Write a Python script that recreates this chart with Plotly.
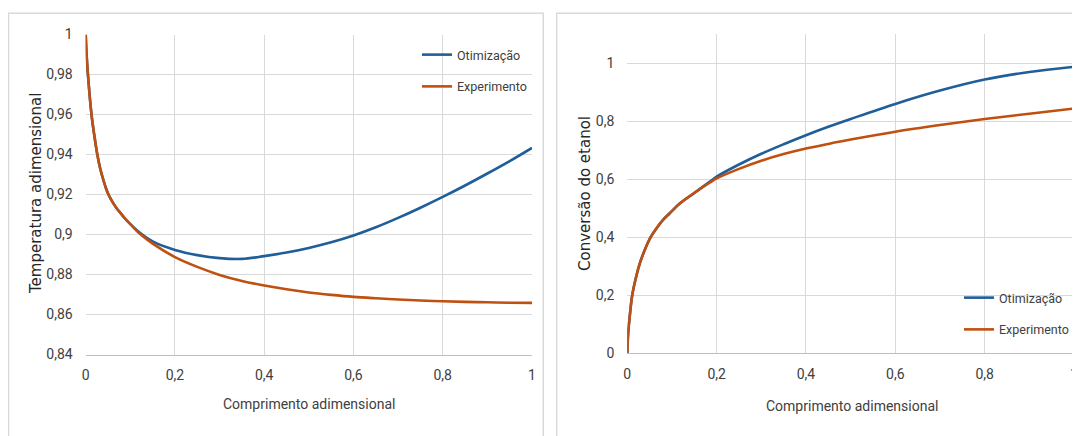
import plotly.graph_objects as go

# ---------------- data ----------------
# Left chart: dimensionless temperature vs dimensionless length
x_temp = [0, 0.002, 0.005, 0.013, 0.019, 0.026, 0.033, 0.04, 0.045, 0.051, 0.057, 0.063, 0.07,
          0.077, 0.088, 0.1, 0.122, 0.151,
          0.2, 0.25, 0.3, 0.35, 0.4, 0.45, 0.5, 0.55, 0.6, 0.65, 0.7, 0.75, 0.8, 0.85, 0.9, 0.95, 1.0]
temp_otim = [1.0, 0.99, 0.98, 0.96, 0.95, 0.94, 0.9325, 0.927, 0.9234, 0.92, 0.9174, 0.9152, 0.9129,
             0.9110, 0.9080, 0.9052, 0.9008, 0.8964,
             0.8923, 0.8897, 0.8882, 0.8878, 0.8892, 0.8910, 0.8933, 0.8961, 0.8995, 0.9036,
             0.9083, 0.9134, 0.9188, 0.9245, 0.9305, 0.9367, 0.9433]
temp_exp = [1.0, 0.99, 0.98, 0.96, 0.95, 0.94, 0.9325, 0.927, 0.9234, 0.92, 0.9174, 0.9152, 0.9129,
            0.9110, 0.9080, 0.9052, 0.9002, 0.8953,
            0.8887, 0.8838, 0.8798, 0.8768, 0.8745, 0.8726, 0.8710, 0.8698, 0.8688, 0.8681,
            0.8675, 0.8670, 0.8666, 0.8663, 0.8661, 0.8659, 0.8658]

# Right chart: ethanol conversion vs dimensionless length
x_conv = [0, 0.002, 0.006, 0.011, 0.02, 0.028, 0.04, 0.052, 0.065, 0.08, 0.095, 0.118, 0.15,
          0.185, 0.2, 0.25, 0.3, 0.35, 0.4, 0.45, 0.5, 0.6, 0.7, 0.8, 0.9, 1.0]
conv_otim = [0, 0.07, 0.135, 0.2, 0.265, 0.31, 0.36, 0.40, 0.43, 0.46, 0.483, 0.517, 0.553,
             0.592, 0.609, 0.651, 0.688, 0.721, 0.752, 0.781, 0.808, 0.860, 0.906, 0.944, 0.970, 0.988]
conv_exp = [0, 0.07, 0.135, 0.2, 0.265, 0.31, 0.36, 0.40, 0.43, 0.46, 0.483, 0.517, 0.553,
            0.589, 0.603, 0.636, 0.664, 0.687, 0.706, 0.722, 0.737, 0.764, 0.787, 0.808, 0.826, 0.844]

series_names = ["Otimização", "Experimento"]

x_tickvals = [0, 0.2, 0.4, 0.6, 0.8, 1.0]
x_ticktext = ["0", "0,2", "0,4", "0,6", "0,8", "1"]
temp_tickvals = [0.84, 0.86, 0.88, 0.90, 0.92, 0.94, 0.96, 0.98, 1.0]
temp_ticktext = ["0,84", "0,86", "0,88", "0,9", "0,92", "0,94", "0,96", "0,98", "1"]
conv_tickvals = [0, 0.2, 0.4, 0.6, 0.8, 1.0]
conv_ticktext = ["0", "0,2", "0,4", "0,6", "0,8", "1"]

x_title = "Comprimento adimensional"
temp_title = "Temperatura adimensional"
conv_title = "Conversão do etanol"

# ---------------- style ----------------
# the page body has an 8px margin, so the figure is sized to fit the 1080x436 window
OFF = 8
W, H = 1080 - OFF, 436 - OFF
BLUE = "#1f5e99"
ORANGE = "#c0500f"
GRID = "#d9d9d9"
NARROW = "Roboto, sans-serif"
TICKFONT = dict(family=NARROW, size=14, color="#404040")
TITLEFONT = dict(family="DejaVu Sans, Verdana, sans-serif", size=15, color="#262626")
LEGFONT = dict(family=NARROW, size=12.5, color="#404040")


def px_x(p):
    # window pixel -> paper fraction
    return (p - OFF) / W


def px_y(p):
    return (H - (p - OFF)) / H


fig = go.Figure()

LW = 2.6
SM = 1.0
fig.add_trace(go.Scatter(x=x_temp, y=temp_otim, name=series_names[0], mode="lines",
                         line=dict(color=BLUE, width=LW, shape="spline", smoothing=SM),
                         xaxis="x", yaxis="y", legend="legend", legendgroup="a1"))
fig.add_trace(go.Scatter(x=x_temp, y=temp_exp, name=series_names[1], mode="lines",
                         line=dict(color=ORANGE, width=LW, shape="spline", smoothing=SM),
                         xaxis="x", yaxis="y", legend="legend", legendgroup="b1"))
fig.add_trace(go.Scatter(x=x_conv, y=conv_otim, name=series_names[0], mode="lines",
                         line=dict(color=BLUE, width=LW, shape="spline", smoothing=SM),
                         xaxis="x2", yaxis="y2", legend="legend2", legendgroup="a2"))
fig.add_trace(go.Scatter(x=x_conv, y=conv_exp, name=series_names[1], mode="lines",
                         line=dict(color=ORANGE, width=LW, shape="spline", smoothing=SM),
                         xaxis="x2", yaxis="y2", legend="legend2", legendgroup="b2"))

axis_common = dict(showgrid=True, gridcolor=GRID, gridwidth=1.3, zeroline=False,
                   tickfont=TICKFONT, ticks="", fixedrange=True, automargin=False)

fig.update_layout(
    template="none",
    width=W, height=H,
    autosize=False,
    margin=dict(l=0, r=0, t=0, b=0, pad=0, autoexpand=False),
    paper_bgcolor="white", plot_bgcolor="white",
    xaxis=dict(domain=[px_x(85.7), px_x(532)], range=[0, 1], tickvals=x_tickvals, ticktext=x_ticktext,
               anchor="y", ticklabelstandoff=8, showline=True, linecolor="#bfbfbf", linewidth=1.3,
               **axis_common),
    yaxis=dict(domain=[px_y(354.5), px_y(34.5)], range=[0.84, 1.0], tickvals=temp_tickvals,
               ticktext=temp_ticktext, anchor="x", ticklabelstandoff=12, showline=False, **axis_common),
    xaxis2=dict(domain=[px_x(627.3), px_x(1074)], range=[0, 1], tickvals=x_tickvals, ticktext=x_ticktext,
                anchor="y2", ticklabelstandoff=8, showline=True, linecolor="#bfbfbf", linewidth=1.3,
                **axis_common),
    yaxis2=dict(domain=[px_y(353.3), px_y(34.3)], range=[0, 1.1], tickvals=conv_tickvals,
                ticktext=conv_ticktext, anchor="x2", ticklabelstandoff=12, showline=False, **axis_common),
    legend=dict(x=px_x(417), y=px_y(40), xanchor="left", yanchor="top", bgcolor="rgba(0,0,0,0)",
                font=LEGFONT, borderwidth=0,
                traceorder="grouped", tracegroupgap=12.5, itemclick=False),
    legend2=dict(x=px_x(959), y=px_y(283), xanchor="left", yanchor="top", bgcolor="rgba(0,0,0,0)",
                 font=LEGFONT, borderwidth=0,
                 traceorder="grouped", tracegroupgap=12.5, itemclick=False),
    shapes=[
        dict(type="rect", xref="paper", yref="paper", x0=px_x(8.5), x1=px_x(543.3), y0=-0.05, y1=px_y(13.3),
             line=dict(color=GRID, width=1.5), layer="below"),
        dict(type="rect", xref="paper", yref="paper", x0=px_x(556.7), x1=1.05, y0=-0.05, y1=px_y(13.3),
             line=dict(color=GRID, width=1.5), layer="below"),
    ],
    annotations=[
        dict(text=temp_title, xref="paper", yref="paper", x=px_x(36), y=px_y(194), textangle=-90,
             showarrow=False, font=TITLEFONT, xanchor="center", yanchor="middle"),
        dict(text=conv_title, xref="paper", yref="paper", x=px_x(585), y=px_y(194), textangle=-90,
             showarrow=False, font=TITLEFONT, xanchor="center", yanchor="middle"),
        dict(text=x_title, xref="paper", yref="paper", x=px_x(309), y=px_y(404),
             showarrow=False, font=dict(family=NARROW, size=14, color="#404040"),
             xanchor="center", yanchor="middle"),
        dict(text=x_title, xref="paper", yref="paper", x=px_x(852), y=px_y(406),
             showarrow=False, font=dict(family=NARROW, size=14, color="#404040"),
             xanchor="center", yanchor="middle"),
    ],
)

fig.write_html("out.html")
